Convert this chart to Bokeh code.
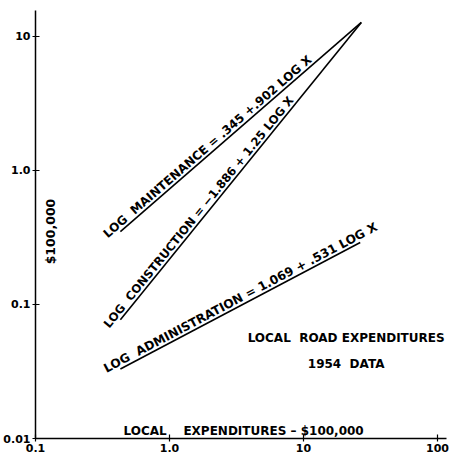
import math
from bokeh.plotting import figure
from bokeh.models import FixedTicker, Label, ColumnDataSource
from bokeh.core.properties import value
from bokeh.embed import file_html
from bokeh.resources import INLINE

# ---- data ----
x_ticks = [0.1, 1, 10, 100]
x_tick_labels = ["0.1", "1.0", "10", "100"]
y_ticks = [0.01, 0.1, 1, 10]
y_tick_labels = ["0.01", "0.1", "1.0", "10"]

line_x = [0.43, 27.0]
maintenance = [0.35, 12.7]
construction = [0.077, 12.7]
admin_x = [0.43, 26.5]
administration = [0.033, 0.29]

NB = "\u00a0"
labels = [
    "LOG" + NB + " MAINTENANCE = .345 +.902 LOG X",
    "LOG" + NB + " CONSTRUCTION = \u22121.886 + 1.25 LOG X",
    "LOG" + NB + " ADMINISTRATION = 1.069 + .531 LOG X",
]

FONT = "DejaVu Sans"

p = figure(x_axis_type="log", y_axis_type="log",
           x_range=(0.1, 116.7), y_range=(0.01, 15.6),
           frame_width=411, frame_height=428,
           output_backend="svg", toolbar_location=None,
           min_border_top=10, min_border_right=7, min_border_left=0, min_border_bottom=0,
           background_fill_color="white", border_fill_color="white")
p.outline_line_color = None
p.grid.visible = False

for ax, ticks, labs in ((p.xaxis[0], x_ticks, x_tick_labels), (p.yaxis[0], y_ticks, y_tick_labels)):
    ax.ticker = FixedTicker(ticks=ticks)
    ax.major_label_overrides = {(int(t) if t >= 1 else t): l for t, l in zip(ticks, labs)}
    ax.axis_line_width = 1.5
    ax.axis_line_color = "black"
    ax.major_tick_in = 4
    ax.major_tick_out = 3
    ax.major_tick_line_width = 1.2
    ax.minor_tick_line_color = None
    ax.major_label_text_font = FONT
    ax.major_label_text_font_style = "bold"
    ax.major_label_text_font_size = "11px"
    ax.major_label_text_color = "black"
    ax.major_label_standoff = 2

p.line(line_x, maintenance, line_color="black", line_width=1.6)
p.line(line_x, construction, line_color="black", line_width=1.6)
p.line(admin_x, administration, line_color="black", line_width=1.6)

def ang(xs, ys):
    return math.atan2(math.log10(ys[1]) - math.log10(ys[0]),
                      math.log10(xs[1]) - math.log10(xs[0]))

angles = [ang(line_x, maintenance), ang(line_x, construction), ang(admin_x, administration)]
back = 14
src = ColumnDataSource(dict(
    x=[line_x[0], line_x[0], admin_x[0]],
    y=[maintenance[0], construction[0], administration[0]],
    text=labels,
    angle=angles,
    xo=[-back * math.cos(a) for a in angles],
    yo=[back * math.sin(a) for a in angles],
    size=["12px", "11.7px", "12.2px"],
))
p.text(x="x", y="y", text="text", angle="angle", x_offset="xo", y_offset="yo", source=src,
       text_font=value(FONT), text_font_style="bold", text_font_size="size",
       text_align="left", text_baseline="bottom", text_color="black")

def lab(x, y, text, size="12px", align="left", baseline="bottom", angle=0.0):
    p.add_layout(Label(x=x, y=y, text=text, text_font=FONT, text_font_style="bold",
                       text_font_size=size, text_align=align, text_baseline=baseline,
                       angle=angle, text_color="black"))

lab(20.8, 0.0495, "LOCAL" + NB + " ROAD EXPENDITURES", align="center")
lab(20.8, 0.0321, "1954" + NB + " DATA", align="center")
lab(0.454, 0.0101, "LOCAL" + NB + NB + NB + " EXPENDITURES \u2013 $100,000")
lab(0.129, 0.35, "$100,000", size="12.5px", align="center", baseline="middle", angle=math.pi / 2)

open("out.html", "w").write(file_html(p, INLINE))
